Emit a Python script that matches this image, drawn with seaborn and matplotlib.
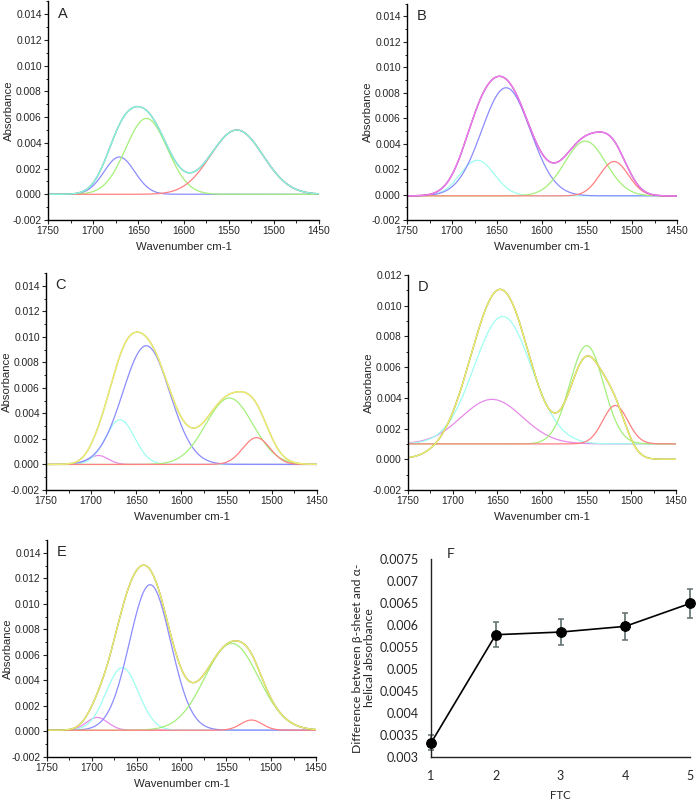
import numpy as np
import pandas as pd
import matplotlib
matplotlib.use('Agg')
import matplotlib.pyplot as plt
import seaborn as sns
from matplotlib.ticker import MultipleLocator, FormatStrFormatter, FuncFormatter

# Band fits: centre (cm-1), height, sigma (cm-1)
A_centers = [1671, 1641, 1541]
A_heights = [0.0029, 0.0059, 0.0050]
A_sigmas = [17, 23, 29]
A_base = 0.0

B_centers = [1672, 1640, 1552, 1520]
B_heights = [0.0028, 0.0085, 0.0043, 0.0027]
B_sigmas = [19, 27, 23, 16]
B_base = -0.0001

C_centers = [1692, 1668, 1639, 1547, 1517]
C_heights = [0.0007, 0.0035, 0.0093, 0.0052, 0.0021]
C_sigmas = [11, 16, 26, 26, 15]
C_base = 0.0

D_centers = [1656, 1644, 1550, 1518]
D_heights = [0.0029, 0.0083, 0.0064, 0.0025]
D_sigmas = [34, 32, 19, 14]
D_base = 0.001  # components drawn on an offset baseline

E_centers = [1694, 1666, 1635, 1544, 1522]
E_heights = [0.0010, 0.0049, 0.0114, 0.0068, 0.0008]
E_sigmas = [12, 18, 23, 30, 12]
E_base = 0.0001

# panel F
ftc = [1, 2, 3, 4, 5]
diff_abs = [0.00332, 0.00578, 0.00584, 0.00597, 0.00649]
diff_err = [0.00017, 0.00029, 0.00029, 0.00030, 0.00032]

BLUE, GREEN, RED, CYAN, MAG = '#8c8cff', '#a4f07a', '#ff8080', '#9ffff0', '#e58ae8'
A_colors = [BLUE, GREEN, RED]
B_colors = [CYAN, BLUE, GREEN, RED]
C_colors = [MAG, CYAN, BLUE, GREEN, RED]
D_colors = [MAG, CYAN, GREEN, RED]
E_colors = [MAG, CYAN, BLUE, GREEN, RED]

sns.set_style('ticks')
plt.rcParams['font.family'] = ['Liberation Sans', 'DejaVu Sans']

wn = np.linspace(1450, 1750, 601)


def gauss(x, c, h, s):
    return h * np.exp(-(x - c) ** 2 / (2 * s ** 2))


def spectrum_frame(centers, heights, sigmas, base, env_base):
    rows = []
    total = np.zeros_like(wn)
    for i, (c, h, s) in enumerate(zip(centers, heights, sigmas)):
        g = gauss(wn, c, h, s)
        total += g
        rows.append(pd.DataFrame({'wn': wn, 'abs': g + base, 'curve': f'c{i}'}))
    rows.append(pd.DataFrame({'wn': wn, 'abs': total + env_base, 'curve': 'fit'}))
    rows.append(pd.DataFrame({'wn': wn, 'abs': total + env_base, 'curve': 'data'}))
    return pd.concat(rows, ignore_index=True)


fig = plt.figure(figsize=(6.97, 8.01), dpi=100)

panels = [
    ('A', [0.0689, 0.7253, 0.3888, 0.2730], A_centers, A_heights, A_sigmas, A_base, A_base, A_colors,
     ('#8a8a8a', '#86f5e0'), (-0.002, 0.015)),
    ('B', [0.5840, 0.7253, 0.3874, 0.2700], B_centers, B_heights, B_sigmas, B_base, B_base, B_colors,
     ('#9a3c9a', '#f07cf0'), (-0.002, 0.015)),
    ('C', [0.0660, 0.3883, 0.3888, 0.2709], C_centers, C_heights, C_sigmas, C_base, C_base, C_colors,
     ('#b8b880', '#eeee72'), (-0.002, 0.015)),
    ('D', [0.5854, 0.3883, 0.3845, 0.2684], D_centers, D_heights, D_sigmas, D_base, 0.0, D_colors,
     ('#6e6e5c', '#f2f266'), (-0.002, 0.012)),
    ('E', [0.0674, 0.0549, 0.3860, 0.2709], E_centers, E_heights, E_sigmas, E_base, E_base, E_colors,
     ('#7c7c50', '#eeee70'), (-0.002, 0.015)),
]

for letter, rect, cen, hei, sig, base, env_base, cols, env_cols, ylim in panels:
    ax = fig.add_axes(rect)
    df = spectrum_frame(cen, hei, sig, base, env_base)
    pal = {f'c{i}': c for i, c in enumerate(cols)}
    pal['fit'] = env_cols[0]
    pal['data'] = env_cols[1]
    comps = df[df['curve'].str.startswith('c')]
    sns.lineplot(data=comps, x='wn', y='abs', hue='curve', palette=pal, legend=False,
                 ax=ax, linewidth=0.9, estimator=None)
    env = df[~df['curve'].str.startswith('c')]
    sns.lineplot(data=env, x='wn', y='abs', hue='curve', hue_order=['fit', 'data'], palette=pal,
                 legend=False, ax=ax, linewidth=1.0, estimator=None)
    ax.set_xlim(1750, 1450)
    ax.set_ylim(*ylim)
    ax.xaxis.set_major_locator(MultipleLocator(50))
    ax.xaxis.set_minor_locator(MultipleLocator(25))
    ax.yaxis.set_major_locator(MultipleLocator(0.002))
    ax.yaxis.set_minor_locator(MultipleLocator(0.001))
    ax.yaxis.set_major_formatter(FormatStrFormatter('%.3f'))
    ax.xaxis.set_major_formatter(FormatStrFormatter('%d'))
    ax.tick_params(which='major', direction='out', length=3, width=0.8, labelsize=7.4, pad=1.5)
    ax.tick_params(which='minor', direction='out', length=1.8, width=0.7)
    for s in ['top', 'right']:
        ax.spines[s].set_visible(False)
    for s in ['left', 'bottom']:
        ax.spines[s].set_color('black')
        ax.spines[s].set_linewidth(1.0)
    ax.set_xlabel('Wavenumber cm-1', fontsize=8.2, labelpad=4)
    ax.set_ylabel('Absorbance', fontsize=8.2)
    ax_w_px = rect[2] * 697
    ax.yaxis.set_label_coords(-34 / ax_w_px, 0.5)
    ax.text(0.035, 0.975, letter, transform=ax.transAxes, ha='left', va='top', fontsize=10.5)

# panel F
fam = ['Lato', 'DejaVu Sans']
axf = fig.add_axes([0.6184, 0.0549, 0.3716, 0.2472])
ftc_df = pd.DataFrame({'FTC': ftc, 'diff': diff_abs})
axf.errorbar(ftc, diff_abs, yerr=diff_err, fmt='none', ecolor='#5f6e6e', elinewidth=1.2,
             capsize=2.5, capthick=1.1, clip_on=False, zorder=2)
sns.lineplot(data=ftc_df, x='FTC', y='diff', ax=axf, color='black', linewidth=1.2,
             marker='o', markersize=7, markeredgecolor='black', clip_on=False, zorder=3)
axf.set_xlim(1, 5)
axf.set_ylim(0.003, 0.0075)
axf.set_xticks(ftc)
axf.yaxis.set_major_locator(MultipleLocator(0.0005))
axf.yaxis.set_major_formatter(FuncFormatter(lambda v, _: f'{v:g}'))
axf.tick_params(length=0, labelsize=9, pad=9, labelfontfamily='Lato')
for s in ['top', 'right']:
    axf.spines[s].set_visible(False)
for s in ['left', 'bottom']:
    axf.spines[s].set_color('#222222')
    axf.spines[s].set_linewidth(1.0)
axf.set_xlabel('FTC', fontsize=8.2, family=fam)
axf.xaxis.set_label_coords(0.5, -0.165)
axf.set_ylabel('Difference between β-sheet and α-\nhelical absorbance', fontsize=8.8, family=fam,
               linespacing=1.1)
axf.yaxis.set_label_coords(-0.215, 0.5)
axf.text(0.062, 1.055, 'F', transform=axf.transAxes, ha='left', va='top', fontsize=10, family=fam)

fig.savefig('out.png', dpi=100)
